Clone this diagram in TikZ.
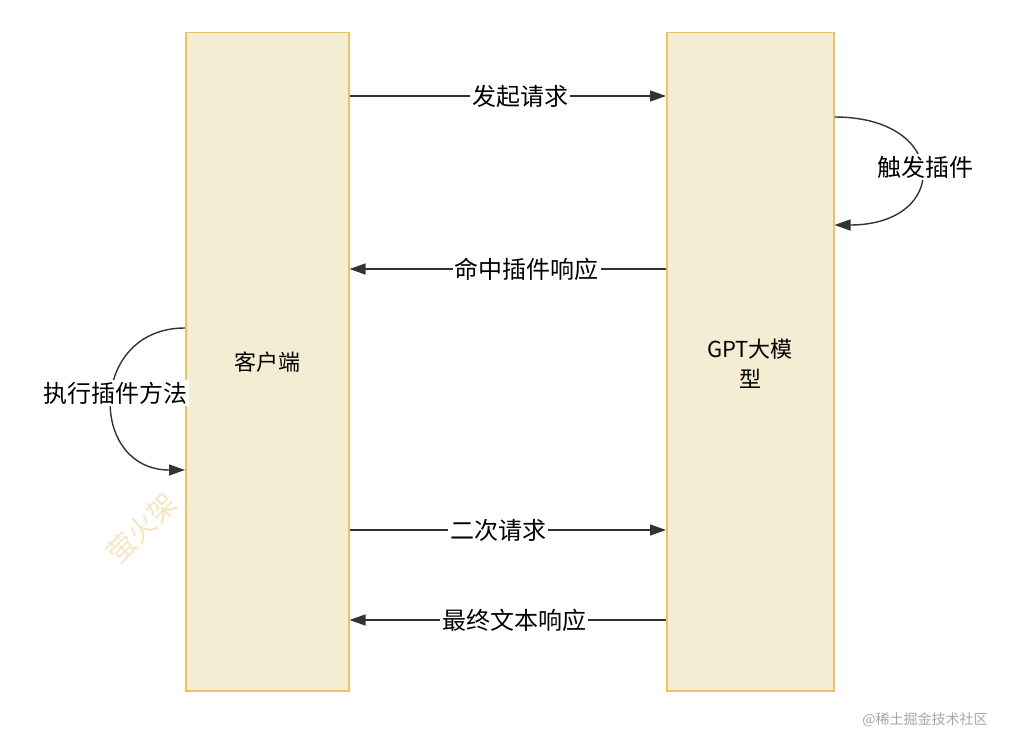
\documentclass[tikz,border=0pt]{standalone}
\usepackage{fontspec}
\setmainfont{Noto Sans CJK SC}
\usetikzlibrary{arrows.meta}
\definecolor{boxfill}{HTML}{F5EDD3}
\definecolor{boxline}{HTML}{E9C466}
\definecolor{ink}{HTML}{333333}
\tikzset{
  col/.style={draw=boxline,fill=boxfill,line width=1.5pt,minimum width=#1,anchor=north west,inner sep=0pt},
  conn/.style={draw=ink,line width=1.4pt,-{Triangle[length=16pt,width=11pt]}},
  lbl/.style={fill=white,text=black,font=\fontsize{24}{28}\selectfont,inner sep=2pt},
}
\begin{document}
\begin{tikzpicture}[x=1pt,y=-1pt]
\useasboundingbox (0,0) rectangle (1014,738);
\node[col=163pt,minimum height=658pt] (cl) at (185,32) {};
\node[col=167pt,minimum height=658pt] (gpt) at (666,32) {};
\node[font=\fontsize{22}{26}\selectfont] at (267,362) {客户端};
\node[font=\fontsize{22}{30}\selectfont,align=center] at (750,364) {GPT大模\\型};
\coordinate (a1) at (cl.north east |- 0,96); \coordinate (b1) at (gpt.north west |- 0,96);
\coordinate (a2) at (cl.north east |- 0,269); \coordinate (b2) at (gpt.north west |- 0,269);
\coordinate (a3) at (cl.north east |- 0,530); \coordinate (b3) at (gpt.north west |- 0,530);
\coordinate (a4) at (cl.north east |- 0,620); \coordinate (b4) at (gpt.north west |- 0,620);
\draw[conn] (a1) -- node[lbl,pos=0.54] {发起请求} (b1);
\draw[conn] (b2) -- node[lbl,pos=0.44] {命中插件响应} (a2);
\draw[conn] (a3) -- node[lbl,pos=0.47] {二次请求} (b3);
\draw[conn] (b4) -- node[lbl,pos=0.48] {最终文本响应} (a4);
\coordinate (r1) at (gpt.north east |- 0,117); \coordinate (r2) at (gpt.north east |- 0,225);
\draw[conn] (r1) .. controls (950,117) and (950,225) .. (r2);
\node[lbl] (t1) at (925,167) {触发插件};
\coordinate (l1) at (cl.north west |- 0,328); \coordinate (l2) at (cl.north west |- 0,470);
\draw[conn] (l1) .. controls (88,328) and (88,470) .. (l2);
\node[lbl] (t2) at (115,393) {执行插件方法};
\node[rotate=45,text=boxline!40,font=\fontsize{28}{30}\selectfont] (wm) at (142,528) {萤火架};
\node[text=black!35,font=\fontsize{14}{16}\selectfont] (wm2) at (925,720) {@稀土掘金技术社区};
\end{tikzpicture}
\end{document}
